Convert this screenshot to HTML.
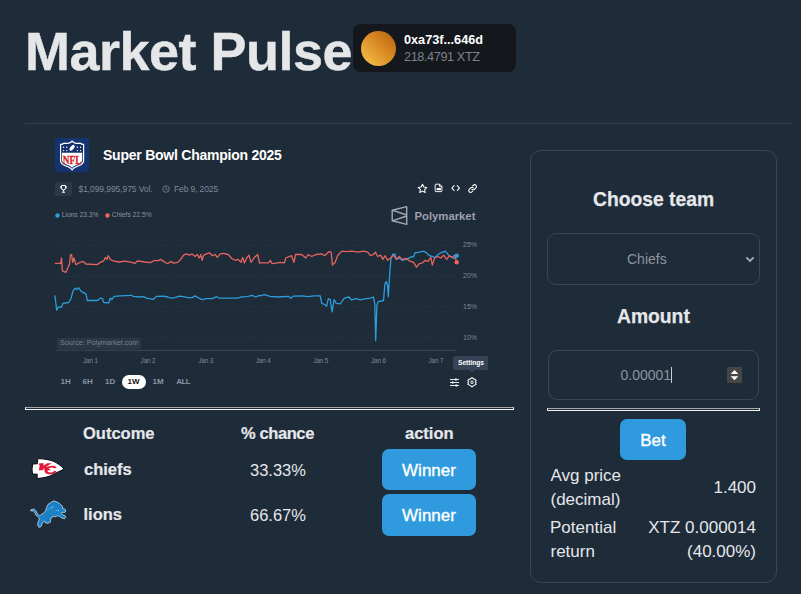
<!DOCTYPE html>
<html>
<head>
<meta charset="utf-8">
<title>Market Pulse</title>
<style>
*{box-sizing:border-box;margin:0;padding:0}
html,body{width:801px;height:594px;overflow:hidden;background:#1e2b38;font-family:"Liberation Sans",sans-serif;color:#e5e7eb}
.abs{position:absolute;white-space:nowrap;line-height:1}
#h1{left:25px;top:24px;font-size:54px;font-weight:bold;color:#e5e6e8;letter-spacing:-0.5px;-webkit-text-stroke:0.4px #e5e6e8}
#wallet{left:353px;top:24px;width:163px;height:48px;background:#14171c;border-radius:8px}
#orb{left:8px;top:7px;width:35px;height:35px;border-radius:50%;background:linear-gradient(45deg,#f2bd45 10%,#d98a24 55%,#b9640f 95%)}
#addr{left:51px;top:10px;font-size:12.7px;font-weight:bold;color:#fff}
#bal{left:51px;top:27px;font-size:12.7px;letter-spacing:-0.4px;color:#7d828c}
#hr1{left:25px;top:123px;width:768px;height:1px;background:#33414f}
#embed{left:25px;top:130px;width:489px;height:270px}
#nfl{left:30px;top:8px;width:34px;height:34px;background:#14336f;border-radius:2px}
#etitle{left:78px;top:18px;font-size:14px;letter-spacing:-0.24px;font-weight:bold;color:#fff}
.hrw{height:3px;border-top:1px solid #a9a9a9;border-bottom:1px solid #f2f2f2;border-left:1px solid #f2f2f2;border-right:1px solid #f2f2f2}
#hr2{left:25px;top:407px;width:489px}
#card{left:530px;top:150px;width:247px;height:433px;border:1px solid #374555;border-radius:11px}
#hr3{left:547px;top:408px;width:213px}
.th{font-size:16.5px;font-weight:bold;color:#e5e7eb;-webkit-text-stroke:0.2px #e5e7eb}
.td{font-size:17px;color:#e5e7eb}
.btn{background:#2f9bde;border-radius:7px;color:#fff;font-size:17px;font-weight:normal;-webkit-text-stroke:0.35px #fff;text-align:center}
.h3{font-size:19.3px;font-weight:bold;color:#e5e7eb;-webkit-text-stroke:0.25px #e5e7eb}
#sel{left:547px;top:233px;width:213px;height:52px;border:1px solid #374555;border-radius:9px}
#inp{left:548px;top:350px;width:211px;height:50px;border:1px solid #384757;border-radius:9px}
.g{color:#8c95a1;font-size:14px}

.sm{font-size:8.5px;color:#7f8a98}
.xs{font-size:6.7px;color:#8a94a2}
.yl{font-size:7px;color:#7f8a98}
.xl{font-size:6.4px;color:#7f8a98;letter-spacing:-0.15px}
.rb{font-size:8px;font-weight:bold;color:#8a96a3}
</style>
</head>
<body>
<div class="abs" id="h1">Market Pulse</div>
<div class="abs" id="wallet">
  <div class="abs" id="orb"></div>
  <div class="abs" id="addr">0xa73f...646d</div>
  <div class="abs" id="bal">218.4791 XTZ</div>
</div>
<div class="abs" id="hr1"></div>

<div class="abs" id="embed">
  <div class="abs" id="nfl"><svg width="34" height="34" viewBox="0 0 34 34" style="display:block"><path d="M17.100 2.200C15.500 4.300 12.500 5.300 9 4.600 7.500 5.600 6 5.900 5 5.800V22.500C5 26 8 27.500 12 29 14.500 30 16.200 31 17.100 33 18 31 19.700 30 22.200 29 26.200 27.500 29.200 26 29.200 22.500V5.800C28.200 5.900 26.700 5.600 25.200 4.600 21.700 5.300 18.700 4.300 17.100 2.200Z" fill="#fff"/><path d="M17.100 3.900C15.300 5.700 12.500 6.500 9.200 5.900 8 6.600 7 6.900 6.200 7V22.400C6.200 25.100 8.700 26.400 12.400 27.800 14.600 28.700 16.200 29.600 17.100 31 18 29.600 19.600 28.700 21.800 27.800 25.500 26.400 28 25.100 28 22.400V7C27.200 6.900 26.200 6.600 25 5.900 21.700 6.500 18.900 5.700 17.100 3.900Z" fill="#14306b"/><path d="M7 14.800H27.200V22.300C27.200 24.600 25 25.700 21.500 27 19.500 27.800 18 28.600 17.100 29.700 16.200 28.600 14.700 27.800 12.700 27 9.200 25.700 7 24.600 7 22.300Z" fill="#fff"/><text x="17.100" y="25.700" text-anchor="middle" font-family="Liberation Serif" font-weight="bold" font-size="13" textLength="18.500" lengthAdjust="spacingAndGlyphs" fill="#d81e1e" stroke="#d81e1e" stroke-width=".35">NFL</text><ellipse cx="17.100" cy="9.800" rx="3.400" ry="1.800" transform="rotate(-50 17.100 9.800)" fill="#fff"/><g fill="#fff"><circle cx="8.600" cy="9.300" r=".7"/><circle cx="11.800" cy="9.300" r=".7"/><circle cx="8.600" cy="12.600" r=".7"/><circle cx="11.800" cy="12.600" r=".7"/><circle cx="22.400" cy="9.300" r=".7"/><circle cx="25.600" cy="9.300" r=".7"/><circle cx="22.400" cy="12.600" r=".7"/><circle cx="25.600" cy="12.600" r=".7"/></g></svg></div>
  <div class="abs" id="etitle">Super Bowl Champion 2025</div>
</div>

<svg class="abs" id="chart" style="left:25px;top:130px" width="489" height="270" viewBox="25 130 489 270">
<g stroke="#34424f" stroke-width="0.8" stroke-dasharray="0.8 1.4">
<line x1="55" y1="245" x2="457" y2="245"/><line x1="55" y1="276.5" x2="457" y2="276.5"/><line x1="55" y1="307" x2="457" y2="307"/><line x1="55" y1="338" x2="457" y2="338"/>
</g>
<line x1="55" y1="350.3" x2="457" y2="350.3" stroke="#3a4858" stroke-width="1"/>
<path d="M54.9 295.3 L56.7 310.2 L58.7 306.8 L61.5 307.4 L63.0 303.3 L68.7 302.5 L71.0 298.7 L73.0 291.0 L75.0 288.1 L76.7 289.6 L78.8 287.8 L80.8 291.0 L83.1 292.4 L85.9 293.9 L87.4 300.5 L97.4 300.5 L100.3 298.2 L102.6 298.7 L103.7 302.5 L108.9 302.8 L110.3 298.2 L111.8 299.6 L114.1 296.4 L120.4 295.9 L131.3 295.3 L133.3 296.4 L139.1 297.0 L143.4 296.7 L146.8 298.2 L149.1 298.7 L153.4 299.3 L156.3 296.4 L163.5 296.2 L167.8 297.0 L170.6 298.2 L174.9 297.6 L179.2 296.2 L183.6 296.7 L187.9 297.6 L192.2 297.6 L195.0 295.9 L197.9 297.6 L202.2 299.6 L206.5 298.7 L212.3 298.7 L216.6 296.7 L219.4 298.2 L238.1 298.2 L241.0 297.0 L246.7 296.7 L252.5 295.3 L255.3 297.0 L259.6 295.3 L260.0 295.9 L264.3 294.7 L270.0 296.4 L277.2 297.0 L288.7 296.4 L291.0 298.2 L293.0 296.2 L303.1 295.9 L307.4 296.7 L314.6 295.9 L320.3 295.9 L321.7 303.3 L324.6 304.5 L326.6 306.2 L328.3 298.7 L330.3 299.6 L332.1 311.9 L334.1 299.6 L336.1 303.3 L340.4 303.9 L343.8 298.7 L346.1 297.6 L349.0 297.0 L351.3 299.9 L356.2 298.7 L360.5 299.9 L366.2 298.7 L370.5 298.2 L373.4 297.0 L374.8 303.9 L375.7 340.7 L376.9 305.3 L378.3 301.6 L383.5 300.5 L384.9 283.8 L386.3 281.5 L387.5 285.2 L388.3 296.7 L389.8 272.3 L390.9 259.4 L392.6 254.5 L394.9 253.9 L396.4 259.4 L399.2 258.0 L402.1 260.3 L406.4 259.4 L409.9 257.4 L413.6 256.5 L415.0 252.8 L419.3 252.2 L423.7 251.1 L426.5 252.8 L429.4 255.7 L432.3 256.5 L435.1 257.4 L438.0 254.5 L440.9 252.8 L445.2 251.1 L448.1 254.5 L451.8 257.4 L453.8 258.5 L456.7 255.7" fill="none" stroke="#2d9cdb" stroke-width="1.3" stroke-linejoin="round"/>
<path d="M54.9 263.4 L60.7 263.4 L61.5 258.0 L62.4 270.9 L65.8 272.3 L67.8 268.0 L69.6 263.7 L70.4 255.1 L71.6 254.5 L72.7 262.3 L73.9 258.0 L75.9 264.6 L80.2 262.3 L83.1 261.4 L85.9 264.0 L97.4 264.6 L100.3 262.3 L103.7 260.8 L105.5 257.4 L106.9 259.4 L108.3 255.7 L110.3 259.4 L113.2 260.8 L119.0 262.0 L124.7 261.1 L131.9 262.3 L134.7 263.4 L137.6 260.8 L144.8 262.0 L150.5 262.6 L154.8 260.3 L157.7 260.8 L160.6 259.4 L163.5 261.4 L167.8 263.7 L170.6 261.4 L173.5 263.1 L177.8 262.3 L180.7 259.4 L183.6 255.1 L186.4 253.9 L189.3 255.1 L192.2 253.9 L195.0 256.5 L197.3 254.5 L199.3 258.0 L200.8 254.5 L202.2 260.3 L203.7 255.1 L206.5 253.9 L209.4 252.8 L212.3 255.7 L215.1 254.5 L217.4 257.4 L220.3 253.9 L223.7 253.4 L228.1 254.5 L231.8 258.5 L235.2 260.3 L238.1 259.4 L241.0 262.3 L242.7 257.4 L244.4 263.1 L246.7 258.0 L249.0 255.1 L251.0 262.3 L253.9 258.0 L257.6 254.5 L259.6 263.1 L260.0 262.8 L268.6 262.8 L270.3 260.3 L272.1 263.7 L275.8 263.1 L280.1 262.3 L284.4 262.8 L285.8 258.0 L291.6 255.7 L293.9 262.3 L295.6 254.5 L301.6 254.5 L305.9 258.0 L308.2 254.5 L311.7 256.5 L316.0 254.5 L321.7 253.9 L324.6 255.7 L328.9 251.7 L331.2 252.2 L332.4 265.1 L335.2 262.3 L337.5 255.7 L341.8 251.1 L346.1 251.7 L351.9 251.1 L357.6 252.2 L363.4 251.1 L367.7 252.2 L370.5 255.7 L373.4 254.5 L375.4 252.2 L377.7 256.5 L380.6 255.1 L382.9 259.4 L384.9 255.7 L387.8 260.3 L390.6 258.0 L393.5 255.1 L396.4 259.4 L399.2 256.5 L402.1 259.4 L406.4 258.5 L409.3 260.8 L413.6 262.3 L416.5 267.2 L419.3 263.7 L422.2 263.1 L425.1 260.3 L428.0 261.4 L430.8 257.4 L432.3 265.1 L434.6 258.0 L438.0 256.5 L440.9 258.0 L443.7 255.1 L446.6 259.4 L449.5 255.7 L452.4 257.4 L454.7 255.1 L456.7 262.3" fill="none" stroke="#e7655f" stroke-width="1.3" stroke-linejoin="round"/>
<circle cx="456.7" cy="255.7" r="2.2" fill="#2d9cdb"/>
<circle cx="456.7" cy="262.3" r="2.2" fill="#f0625d"/>
</svg>

<div class="abs" id="troph" style="left:55px;top:182px;width:17px;height:13.5px;background:#2b3a4b;border-radius:2px"></div>
<svg class="abs" style="left:60px;top:184.5px" width="7" height="8" viewBox="0 0 14 16"><path d="M3 1h8v5a4 4 0 0 1-8 0z" fill="none" stroke="#fff" stroke-width="2"/><path d="M3 3H1v2a2 2 0 0 0 2 2M11 3h2v2a2 2 0 0 1-2 2" fill="none" stroke="#fff" stroke-width="1.6"/><path d="M7 10v3M4 14.5h6" stroke="#fff" stroke-width="2.2" fill="none"/></svg>
<div class="abs sm" id="vol" style="left:78.5px;top:184.5px;letter-spacing:-0.08px">$1,099,995,975 Vol.</div>
<svg class="abs" style="left:162px;top:184.5px" width="8" height="8" viewBox="0 0 16 16"><circle cx="8" cy="8" r="6.5" fill="none" stroke="#7f8a98" stroke-width="1.6"/><path d="M8 4v4.5l3 1.5" fill="none" stroke="#7f8a98" stroke-width="1.6"/></svg>
<div class="abs sm" id="date" style="left:174px;top:184.5px;letter-spacing:-0.12px">Feb 9, 2025</div>

<svg class="abs" style="left:417px;top:183px" width="11" height="11" viewBox="0 0 24 24"><path d="M12 2.8l2.9 6 6.5.9-4.7 4.6 1.1 6.5-5.8-3.1-5.8 3.1 1.1-6.5L2.6 9.700l6.500-.9z" fill="none" stroke="#fff" stroke-width="2.3" stroke-linejoin="round"/></svg>
<svg class="abs" style="left:434.200px;top:183.200px" width="9.600" height="9.600" viewBox="0 0 20 20"><path d="M4 2.500h8l4.500 4.500v9.500a1.500 1.500 0 0 1-1.500 1.500h-11a1.500 1.500 0 0 1-1.500-1.500v-12.500a1.500 1.500 0 0 1 1.500-1.500z" fill="none" stroke="#fff" stroke-width="2"/><path d="M11.500 2.500v5h5" fill="none" stroke="#fff" stroke-width="1.800"/><rect x="5.500" y="10.500" width="9" height="4.500" fill="#fff"/></svg>
<svg class="abs" style="left:450.500px;top:185.300px" width="9.400" height="6.200" viewBox="0 0 20 14"><path d="M6.500 1.500L1.500 7l5 5.500M13.500 1.500l5 5.500-5 5.500" fill="none" stroke="#fff" stroke-width="2.400" stroke-linecap="round" stroke-linejoin="round"/></svg>
<svg class="abs" style="left:467.600px;top:183.600px" width="9.200" height="9.200" viewBox="0 0 20 20"><g fill="none" stroke="#fff" stroke-width="2.300" stroke-linecap="round"><path d="M8.500 11.500a4 4 0 0 0 5.700 0l3-3a4 4 0 0 0-5.700-5.700l-1.500 1.500"/><path d="M11.500 8.500a4 4 0 0 0-5.700 0l-3 3a4 4 0 0 0 5.700 5.700l1.500-1.500"/></g></svg>

<svg class="abs" style="left:54.5px;top:213.3px" width="5" height="5"><circle cx="2.5" cy="2.5" r="2.2" fill="#2d9cdb"/></svg>
<div class="abs xs" id="lg1" style="left:61.700px;top:212px">Lions 23.3%</div>
<svg class="abs" style="left:104.8px;top:213.3px" width="5" height="5"><circle cx="2.5" cy="2.5" r="2.2" fill="#f0625d"/></svg>
<div class="abs xs" id="lg2" style="left:111.800px;top:212px">Chiefs 22.5%</div>

<svg class="abs" style="left:390px;top:205px" width="19" height="21" viewBox="0 0 19 21"><path d="M2.200 5.200L16.700 1.600V19.400L2.200 15.800Z M2.200 5.200L16.700 10 M2.200 15.800L16.700 11" fill="none" stroke="#a4a7b8" stroke-width="1.400" stroke-linejoin="round"/></svg>
<div class="abs" id="pm" style="left:414.500px;top:210.700px;font-size:11.300px;font-weight:bold;color:#9c9fb1">Polymarket</div>

<div class="abs yl" id="y1" style="left:463px;top:241px">25%</div>
<div class="abs yl" id="y2" style="left:463px;top:272px">20%</div>
<div class="abs yl" id="y3" style="left:463px;top:303px">15%</div>
<div class="abs yl" id="y4" style="left:463px;top:334px">10%</div>

<div class="abs" id="src" style="left:57px;top:337.500px;width:84px;height:11px;background:#2a3746;border-radius:1.500px"></div>
<div class="abs" id="srct" style="left:60px;top:339px;font-size:7.200px;color:#76828f">Source: Polymarket.com</div>

<div class="abs xl" id="x1" style="left:83px;top:357.500px">Jan 1</div>
<div class="abs xl" id="x2" style="left:140.600px;top:357.500px">Jan 2</div>
<div class="abs xl" id="x3" style="left:198.200px;top:357.500px">Jan 3</div>
<div class="abs xl" id="x4" style="left:255.800px;top:357.500px">Jan 4</div>
<div class="abs xl" id="x5" style="left:313.400px;top:357.500px">Jan 5</div>
<div class="abs xl" id="x6" style="left:371px;top:357.500px">Jan 6</div>
<div class="abs xl" id="x7" style="left:428.500px;top:357.500px">Jan 7</div>

<div class="abs rb" id="rb1" style="left:60.500px;top:377.500px">1H</div>
<div class="abs rb" id="rb2" style="left:82.500px;top:377.500px">6H</div>
<div class="abs rb" id="rb3" style="left:105px;top:377.500px">1D</div>
<div class="abs" id="pill" style="left:122px;top:374.500px;width:24px;height:14.500px;border-radius:7.500px;background:#fff"></div>
<div class="abs rb" id="rb4" style="left:127.500px;top:377.500px;color:#111">1W</div>
<div class="abs rb" id="rb5" style="left:152.500px;top:377.500px">1M</div>
<div class="abs rb" id="rb6" style="left:176.300px;top:377.500px;letter-spacing:-0.6px">ALL</div>

<div class="abs" id="tip" style="left:453px;top:355.500px;width:35px;height:14.500px;background:#374357;border-radius:3px 0 0 3px"></div>
<svg class="abs" style="left:468.500px;top:369.500px" width="6" height="3"><path d="M0 0h6l-3 2.500z" fill="#374357"/></svg>
<div class="abs" id="tipt" style="left:458px;top:360px;font-size:6.600px;font-weight:bold;color:#fff">Settings</div>
<svg class="abs" style="left:450px;top:378px" width="9" height="9" viewBox="0 0 18 18"><g stroke="#fff" stroke-width="1.800" fill="none"><path d="M0 3h18M0 9h18M0 15h18"/></g><g fill="#fff"><rect x="10" y="1" width="3.500" height="4"/><rect x="3.500" y="7" width="3.500" height="4"/><rect x="11" y="13" width="3.500" height="4"/></g></svg>
<svg class="abs" style="left:466.500px;top:377px" width="10" height="10.500" viewBox="0 0 20 21"><path d="M10.00 1.30 Q13.45 4.52 17.97 5.90 Q16.90 10.50 17.97 15.10 Q13.45 16.48 10.00 19.70 Q6.55 16.48 2.03 15.10 Q3.10 10.50 2.03 5.90 Q6.55 4.52 10.00 1.30Z" fill="none" stroke="#fff" stroke-width="2.300" stroke-linejoin="round"/><circle cx="10" cy="10.500" r="2.600" fill="none" stroke="#fff" stroke-width="1.900"/></svg>
<div class="abs hrw" id="hr2"></div>

<div class="abs th" id="th1" style="left:83px;top:425px">Outcome</div>
<div class="abs th" id="th2" style="left:241px;top:425px;letter-spacing:-0.4px">% chance</div>
<div class="abs th" id="th3" style="left:405px;top:425px">action</div>
<div class="abs th" id="r1n" style="left:84px;top:461px">chiefs</div>
<div class="abs td" id="r1p" style="left:250px;top:462px;font-size:16.5px">33.33%</div>
<div class="abs btn" id="b1" style="left:382px;top:449px;width:94px;height:41px;line-height:43px">Winner</div>
<div class="abs th" id="r2n" style="left:83.5px;top:506px">lions</div>
<div class="abs td" id="r2p" style="left:250px;top:507px;font-size:16.5px">66.67%</div>
<div class="abs btn" id="b2" style="left:382px;top:494px;width:94px;height:42px;line-height:44px">Winner</div>


<svg class="abs" id="kc" style="left:28px;top:455px" width="40" height="28" viewBox="0 0 40 28"><path d="M36.200 14.200C33 10.500 29 8 26 6.500 22 4.800 17 3.900 9.800 3.600L9.300 8.800 4.700 9 4 14 4.500 19 9.300 19.200 9 23.500C16 23 22 21.500 26 19 29 17.500 33 15.500 36.200 14.200Z" fill="#fff" stroke="#04070b" stroke-width="1" stroke-linejoin="round"/><path d="M11.300 8.300h4.500l-.5 2.500 4-2.500h4.400l-5.400 3.500 4.800 3.400h-4.600l-2.800-2-.4 2h-4.500l1-5.200h-.9z" fill="#e31837"/><path d="M28.600 12.400C27.800 11.300 26 10.700 24 10.800 19.500 11 16.400 13 16.400 15.400 16.400 18 19.500 19.500 23 19.300 25.800 19.100 28 17.800 28.500 16.200L26.200 15.700C25.600 16.800 24.400 17.500 22.800 17.500 20.800 17.500 19.500 16.700 19.500 15.400 19.500 13.800 21.500 12.600 23.800 12.600 25 12.600 25.900 12.900 26.400 13.500Z" fill="#e31837"/></svg>
<svg class="abs" id="lion" style="left:28px;top:497px" width="42" height="34" viewBox="0 0 42 34"><path d="M2.29 13.44 L4.00 12.30 L6.29 12.13 L7.72 13.44 L8.87 15.73 L10.30 17.73 L11.73 18.59 L13.73 17.16 L16.59 15.45 L17.73 13.16 L18.88 9.73 L20.02 7.44 L22.88 5.43 L25.74 3.89 L28.60 4.86 L30.89 6.01 L33.18 8.01 L34.61 9.44 L34.32 11.44 L37.19 12.30 L37.76 13.73 L37.19 15.16 L33.75 15.45 L32.89 16.30 L34.90 17.73 L37.19 18.88 L37.76 20.31 L36.61 21.74 L34.32 21.17 L31.46 19.45 L29.75 18.59 L27.46 19.74 L25.17 19.45 L22.88 21.17 L22.60 23.46 L22.31 25.17 L20.02 26.32 L17.16 25.74 L16.59 24.03 L14.30 25.74 L13.73 28.03 L12.87 29.75 L10.87 30.32 L9.73 28.03 L10.01 25.17 L11.16 22.88 L10.87 20.59 L9.73 19.45 L8.01 18.31 L6.86 15.45 L5.43 14.02 L4.00 14.02Z" fill="#1b80c6" stroke="#c5dff0" stroke-width=".8" stroke-linejoin="round"/><path d="M19.500 12.600l5.500-2.400M22.500 10.300l3.500-.6M27.500 13.500l2.500.6" stroke="#7fc0ea" stroke-width=".5" fill="none"/><circle cx="30.300" cy="13.500" r=".55" fill="#e8f4fb"/></svg>
<svg class="abs" id="chev" style="left:745px;top:255.500px" width="10" height="7" viewBox="0 0 10 7"><path d="M1.300 1.300L5 5l3.700-3.700" fill="none" stroke="#a3a9b2" stroke-width="1.900" stroke-linecap="butt" stroke-linejoin="miter"/></svg>
<div class="abs" id="caret" style="left:671px;top:367px;width:1px;height:16px;background:#c9ced6"></div>
<div class="abs" id="spin" style="left:727px;top:367px;width:15px;height:16px;background:#464646;border-radius:1px"></div>
<svg class="abs" style="left:727px;top:367px" width="15" height="16" viewBox="0 0 15 16"><path d="M3.700 7l3.800-4L11.300 7zM3.700 9.300l3.800 4 3.800-4z" fill="#fff"/></svg>
<div class="abs" id="card"></div>
<div class="abs h3" id="ct" style="left:593px;top:190px">Choose team</div>
<div class="abs" id="sel"></div>
<div class="abs g" id="selt" style="left:627px;top:252px">Chiefs</div>
<div class="abs h3" id="am" style="left:617px;top:307px">Amount</div>
<div class="abs" id="inp"></div>
<div class="abs g" id="inpt" style="left:620.500px;top:368.400px">0.00001</div>
<div class="abs hrw" id="hr3"></div>
<div class="abs btn" id="bet" style="left:620px;top:419px;width:66px;height:41px;line-height:43px">Bet</div>
<div class="abs td" id="l1" style="left:550.5px;top:467px">Avg price</div>
<div class="abs td" id="l2" style="left:550.5px;top:491px">(decimal)</div>
<div class="abs td" id="v1" style="right:45px;top:479px">1.400</div>
<div class="abs td" id="l3" style="left:550px;top:519px">Potential</div>
<div class="abs td" id="l4" style="left:550.5px;top:543px">return</div>
<div class="abs td" id="v2" style="right:45px;top:519px">XTZ 0.000014</div>
<div class="abs td" id="v3" style="right:45px;top:543px">(40.00%)</div>
</body>
</html>
